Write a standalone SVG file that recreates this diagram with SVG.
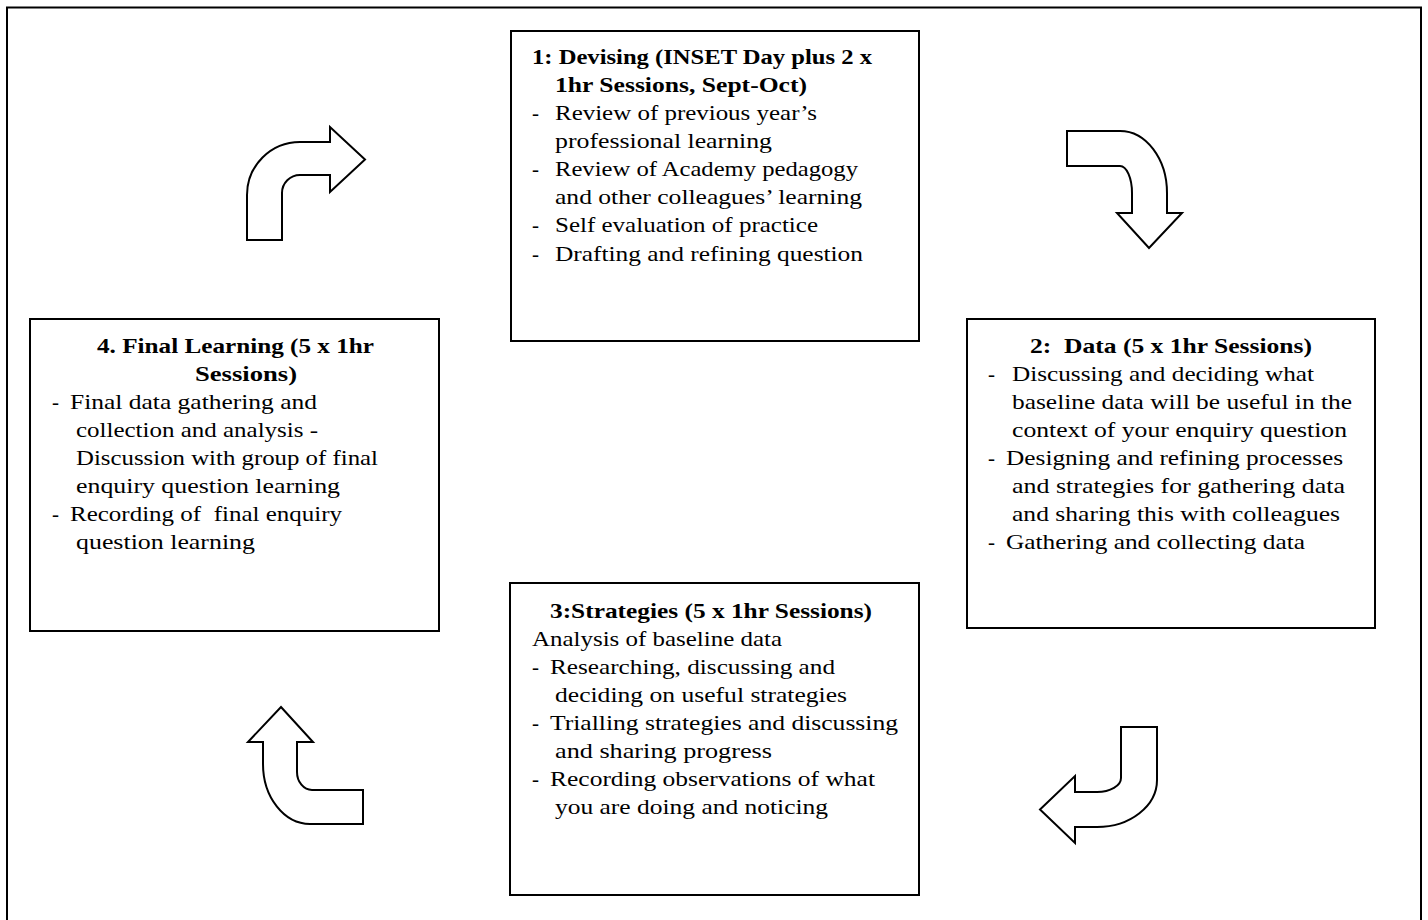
<svg xmlns="http://www.w3.org/2000/svg" width="1428" height="920" viewBox="0 0 1428 920">
<style>
.frame{fill:none;stroke:#000;stroke-width:2}
.box{fill:#fff;stroke:#000;stroke-width:2}
.arr{fill:#fff;stroke:#000;stroke-width:2;stroke-linejoin:miter}
text{font-family:"Liberation Serif","Times New Roman",serif;font-size:21px;fill:#000}
.b{font-weight:bold}
</style>
<rect width="1428" height="920" fill="#fff"/>
<rect class="frame" x="7" y="7.5" width="1414" height="930"/>

<g id="node1">
<rect class="box" x="511" y="31" width="408" height="310"/>
<text class="b" x="532" y="64" textLength="340" lengthAdjust="spacingAndGlyphs">1: Devising (INSET Day plus 2 x</text>
<text class="b" x="555" y="92" textLength="252" lengthAdjust="spacingAndGlyphs">1hr Sessions, Sept-Oct)</text>
<text x="532" y="120">-</text>
<text x="555" y="120" textLength="262" lengthAdjust="spacingAndGlyphs">Review of previous year’s</text>
<text x="555" y="148" textLength="217" lengthAdjust="spacingAndGlyphs">professional learning</text>
<text x="532" y="176">-</text>
<text x="555" y="176" textLength="303" lengthAdjust="spacingAndGlyphs">Review of Academy pedagogy</text>
<text x="555" y="204" textLength="307" lengthAdjust="spacingAndGlyphs">and other colleagues’ learning</text>
<text x="532" y="232">-</text>
<text x="555" y="232" textLength="263" lengthAdjust="spacingAndGlyphs">Self evaluation of practice</text>
<text x="532" y="261">-</text>
<text x="555" y="261" textLength="308" lengthAdjust="spacingAndGlyphs">Drafting and refining question</text>
</g>

<g id="node2">
<rect class="box" x="967" y="319" width="408" height="309"/>
<text class="b" x="1030" y="353" textLength="282" lengthAdjust="spacingAndGlyphs" xml:space="preserve">2:  Data (5 x 1hr Sessions)</text>
<text x="988" y="381">-</text>
<text x="1012" y="381" textLength="302" lengthAdjust="spacingAndGlyphs">Discussing and deciding what</text>
<text x="1012" y="409" textLength="340" lengthAdjust="spacingAndGlyphs">baseline data will be useful in the</text>
<text x="1012" y="437" textLength="335" lengthAdjust="spacingAndGlyphs">context of your enquiry question</text>
<text x="988" y="465">-</text>
<text x="1006" y="465" textLength="337" lengthAdjust="spacingAndGlyphs">Designing and refining processes</text>
<text x="1012" y="493" textLength="333" lengthAdjust="spacingAndGlyphs">and strategies for gathering data</text>
<text x="1012" y="521" textLength="328" lengthAdjust="spacingAndGlyphs">and sharing this with colleagues</text>
<text x="988" y="549">-</text>
<text x="1006" y="549" textLength="299" lengthAdjust="spacingAndGlyphs">Gathering and collecting data</text>
</g>

<g id="node3">
<rect class="box" x="510" y="583" width="409" height="312"/>
<text class="b" x="550" y="618" textLength="322" lengthAdjust="spacingAndGlyphs">3:Strategies (5 x 1hr Sessions)</text>
<text x="532" y="646" textLength="250" lengthAdjust="spacingAndGlyphs">Analysis of baseline data</text>
<text x="532" y="674">-</text>
<text x="550" y="674" textLength="285" lengthAdjust="spacingAndGlyphs">Researching, discussing and</text>
<text x="555" y="702" textLength="292" lengthAdjust="spacingAndGlyphs">deciding on useful strategies</text>
<text x="532" y="730">-</text>
<text x="550" y="730" textLength="348" lengthAdjust="spacingAndGlyphs">Trialling strategies and discussing</text>
<text x="555" y="758" textLength="217" lengthAdjust="spacingAndGlyphs">and sharing progress</text>
<text x="532" y="786">-</text>
<text x="550" y="786" textLength="325" lengthAdjust="spacingAndGlyphs">Recording observations of what</text>
<text x="555" y="814" textLength="273" lengthAdjust="spacingAndGlyphs">you are doing and noticing</text>
</g>

<g id="node4">
<rect class="box" x="30" y="319" width="409" height="312"/>
<text class="b" x="97" y="353" textLength="277" lengthAdjust="spacingAndGlyphs">4. Final Learning (5 x 1hr</text>
<text class="b" x="195" y="381" textLength="102" lengthAdjust="spacingAndGlyphs">Sessions)</text>
<text x="52" y="409">-</text>
<text x="70" y="409" textLength="247" lengthAdjust="spacingAndGlyphs">Final data gathering and</text>
<text x="76" y="437" textLength="242" lengthAdjust="spacingAndGlyphs">collection and analysis -</text>
<text x="76" y="465" textLength="302" lengthAdjust="spacingAndGlyphs">Discussion with group of final</text>
<text x="76" y="493" textLength="264" lengthAdjust="spacingAndGlyphs">enquiry question learning</text>
<text x="52" y="521">-</text>
<text x="70" y="521" textLength="272" lengthAdjust="spacingAndGlyphs" xml:space="preserve">Recording of  final enquiry</text>
<text x="76" y="549" textLength="179" lengthAdjust="spacingAndGlyphs">question learning</text>
</g>

<g id="connectors">
<path class="arr" d="M247,240 L247,195 A53,53 0 0 1 300,142 L330,142 L330,127 L365,159.5 L330,192 L330,175 L300,175 A18,18 0 0 0 282,193 L282,240 Z"/>
<path class="arr" d="M1067,131 L1120,131 A47,62 0 0 1 1167,193 L1167,213 L1182,213 L1149,248 L1117,213 L1132,213 L1132,193 A12,27 0 0 0 1120,166 L1067,166 Z"/>
<path class="arr" d="M1121,727 L1157,727 L1157,780 A60,47 0 0 1 1097,827 L1075,827 L1075,843 L1040,809.5 L1075,776 L1075,792 L1097,792 A24,14 0 0 0 1121,778 Z"/>
<path class="arr" d="M281,707 L313,742 L297,742 L297,772 A15,18 0 0 0 312,790 L363,790 L363,824 L310,824 A47,60 0 0 1 263,764 L263,742 L248,742 Z"/>
</g>
</svg>
